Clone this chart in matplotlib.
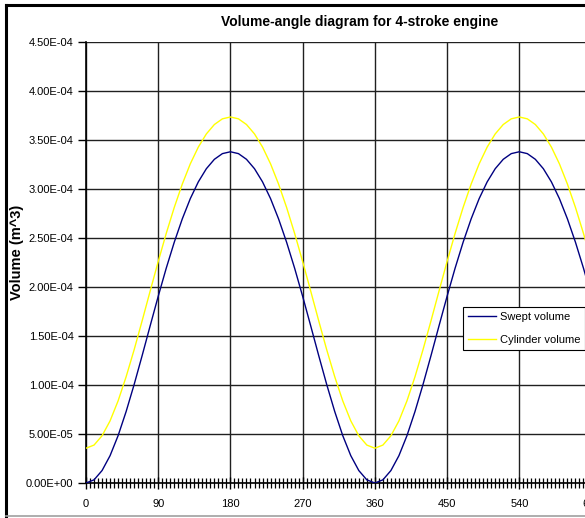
import matplotlib
matplotlib.use('Agg')
import matplotlib.pyplot as plt
from matplotlib.ticker import MultipleLocator, FuncFormatter
from matplotlib.lines import Line2D

plt.rcParams['font.family'] = ['Liberation Sans', 'DejaVu Sans']

# crank angle, degrees
angle = list(range(0, 640, 10))

# swept volume, 1e-4 m^3
swept = [0, 0.032, 0.127, 0.279, 0.483, 0.729, 1.005, 1.301, 1.605, 1.905,
         2.192, 2.457, 2.695, 2.902, 3.073, 3.207, 3.303, 3.361, 3.380,
         3.361, 3.303, 3.207, 3.073, 2.902, 2.695, 2.457, 2.192, 1.905,
         1.605, 1.301, 1.005, 0.729, 0.483, 0.279, 0.127, 0.032, 0,
         0.032, 0.127, 0.279, 0.483, 0.729, 1.005, 1.301, 1.605, 1.905,
         2.192, 2.457, 2.695, 2.902, 3.073, 3.207, 3.303, 3.361, 3.380,
         3.361, 3.303, 3.207, 3.073, 2.902, 2.695, 2.457, 2.192, 1.905]

# cylinder volume, 1e-4 m^3
cylinder = [0.355, 0.387, 0.482, 0.634, 0.838, 1.084, 1.360, 1.656, 1.960, 2.260,
            2.547, 2.812, 3.050, 3.257, 3.428, 3.562, 3.658, 3.716, 3.735,
            3.716, 3.658, 3.562, 3.428, 3.257, 3.050, 2.812, 2.547, 2.260,
            1.960, 1.656, 1.360, 1.084, 0.838, 0.634, 0.482, 0.387, 0.355,
            0.387, 0.482, 0.634, 0.838, 1.084, 1.360, 1.656, 1.960, 2.260,
            2.547, 2.812, 3.050, 3.257, 3.428, 3.562, 3.658, 3.716, 3.735,
            3.716, 3.658, 3.562, 3.428, 3.257, 3.050, 2.812, 2.547, 2.260]

swept = [v * 1e-4 for v in swept]
cylinder = [v * 1e-4 for v in cylinder]

W, H = 585, 518
fig = plt.figure(figsize=(W / 100, H / 100), dpi=100)

# chart frame (cropped on the right): black left/top, grey bottom
fig.lines.append(Line2D([6 / W, 6 / W], [1 - 5 / H, 1 - 516 / H],
                        transform=fig.transFigure, color='black', linewidth=2.2))
fig.lines.append(Line2D([6 / W, 1.0], [1 - 5 / H, 1 - 5 / H],
                        transform=fig.transFigure, color='black', linewidth=2.2))
fig.lines.append(Line2D([6 / W, 1.0], [1 - 516 / H, 1 - 516 / H],
                        transform=fig.transFigure, color='#a0a0a0', linewidth=1.2))

ax = fig.add_axes([86 / W, 35 / H, (591.5 - 86) / W, (483 - 42) / H])
ax.plot(angle, swept, color='#000080', linewidth=1.0, label='Swept volume', zorder=3)
ax.plot(angle, cylinder, color='#ffff00', linewidth=1.0, label='Cylinder volume', zorder=3)

ax.set_xlim(0, 630)
ax.set_ylim(0, 4.5e-4)
ax.xaxis.set_major_locator(MultipleLocator(90))
ax.xaxis.set_minor_locator(MultipleLocator(5))
ax.yaxis.set_major_locator(MultipleLocator(0.5e-4))
ax.yaxis.set_major_formatter(FuncFormatter(lambda v, p: '%.2E' % v))

ax.grid(True, which='major', color='#202020', linewidth=1.0, zorder=1)
ax.yaxis.get_gridlines()[-1].set_visible(False)
ax.xaxis.get_gridlines()[0].set_visible(False)

for s in ['top', 'right']:
    ax.spines[s].set_visible(False)
for s in ['left', 'bottom']:
    ax.spines[s].set_linewidth(1.2)
    ax.spines[s].set_color('black')

ax.tick_params(axis='y', which='major', direction='out', length=6, width=1,
               labelsize=8, pad=3)
ax.tick_params(axis='x', which='major', direction='inout', length=9, width=1,
               labelsize=8, pad=7)
ax.tick_params(axis='x', which='minor', direction='inout', length=7, width=0.9)

ax.set_ylabel('Volume (m^3)', fontsize=10.5, fontweight='bold')
ax.yaxis.label.set_verticalalignment('center')
ax.yaxis.set_label_coords(-69 / (591.5 - 86), (483 - 252) / (483 - 42))

fig.text(360 / W, 1 - 22 / H, 'Volume-angle diagram for 4-stroke engine',
         ha='center', va='center', fontsize=10, fontweight='bold')

leg = ax.legend(loc='upper left',
                bbox_to_anchor=((463 - 86) / (591.5 - 86), (483 - 307) / (483 - 42)),
                fontsize=8, frameon=True, fancybox=False, framealpha=1,
                edgecolor='black', borderpad=0.45, handlelength=2.5,
                labelspacing=1.2, handletextpad=0.35, borderaxespad=0)
leg.get_frame().set_linewidth(0.8)

fig.savefig('out.png', dpi=100)
